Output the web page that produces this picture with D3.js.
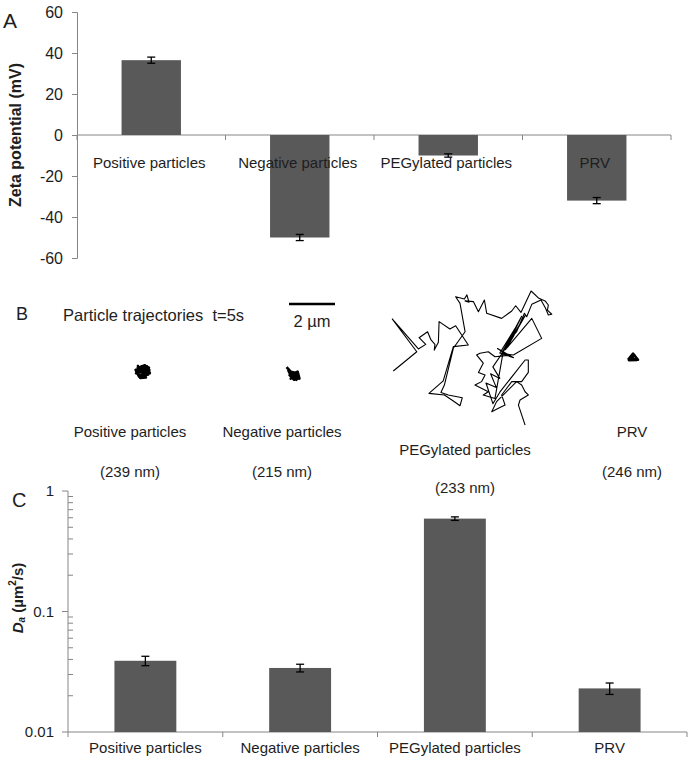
<!DOCTYPE html>
<html>
<head>
<meta charset="utf-8">
<script src="https://cdn.jsdelivr.net/npm/d3@7/dist/d3.min.js"></script>
<style>
  html, body { margin: 0; padding: 0; background: #fff; }
  svg { display: block; font-family: "Liberation Sans", Arial, sans-serif; }
</style>
</head>
<body>
<svg id="chart" width="692" height="761"></svg>
<script>
// ---------- DATA ----------
const categories = ["Positive particles", "Negative particles", "PEGylated particles", "PRV"];
const zetaValues = [36.5, -50, -10, -32];
const zetaErrors = [1.5, 1.5, 0.8, 1.5];
const zetaTicks = [-60, -40, -20, 0, 20, 40, 60];
const daValues = [0.039, 0.034, 0.59, 0.023];
const daErrors = [0.0035, 0.0025, 0.02, 0.0025];
const daTicks = [1, 0.1, 0.01];
const daTickLabels = ["1", "0.1", "0.01"];
const particleSizes = ["(239 nm)", "(215 nm)", "(233 nm)", "(246 nm)"];
const scaleBarMicrons = 2;

// trajectories in µm, relative to each particle's mean position
const trajPositive = [[-0.25,-0.1],[0.1,-0.25],[0.3,-0.05],[0.05,0.2],[-0.28,0.1],[-0.05,-0.2],[0.25,0.15],[-0.15,0.25],[-0.3,-0.05],[0.2,-0.2],[0.32,0.1],[0,0.05],[-0.2,-0.22],[0.15,0.28],[-0.1,0.3],[-0.25,0.05],[0.1,0.0],[0.28,-0.15],[-0.1,-0.05],[0.15,0.12]];
const trajNegative = [[-0.28,-0.3],[-0.1,-0.1],[0.1,-0.05],[0.25,0.15],[0.05,0.25],[-0.15,0.05],[0.2,-0.1],[0.28,0.2],[-0.05,0.15],[-0.2,-0.15],[0.15,0.25],[0.0,-0.05],[0.22,0.05],[-0.1,0.2],[0.1,0.1]];
const trajPEG = [[-3.03,0.48],[-2.01,-0.36],[-3.07,-1.78],[-1.94,-0.48],[-1.62,-0.68],[-1.91,-0.97],[-1.54,-1.23],[-1.39,-0.87],[-1.22,-0.68],[-1.25,-0.43],[-1.07,-0.77],[-1.04,-1.67],[-0.57,-1.35],[-0.32,-1.49],[0.23,-0.65],[-0.42,-0.58],[-0.86,0.91],[-1.48,1.45],[-0.81,1.52],[-0.42,1.78],[-0.13,1.99],[-0.03,1.64],[-0.64,1.52],[-0.96,1.41],[-0.81,1.09],[-0.42,-0.51],[0.09,-1.23],[-0.13,-2.46],[-0.32,-2.75],[0.06,-2.65],[0.17,-2.83],[0.26,-2.51],[0.09,-2.57],[0.45,-2.54],[0.67,-2.10],[0.93,-2.61],[1.03,-2.03],[1.68,-1.81],[2.12,-2.13],[2.29,-2.36],[2.52,-2.07],[2.96,-3.00],[3.30,-2.68],[3.57,-2.57],[3.71,-2.39],[3.67,-2.17],[3.86,-1.99],[3.71,-1.96],[3.59,-2.25],[3.39,-2.61],[2.99,-2.42],[2.77,-1.88],[2.67,-2.03],[2.33,-1.23],[2.09,-0.94],[1.75,-0.36],[2.70,-1.93],[1.90,-0.51],[2.99,-1.81],[3.42,-0.94],[2.19,-0.22],[1.68,-0.29],[2.55,-1.90],[1.85,-0.45],[2.40,-1.60],[1.60,-0.30],[2.20,-0.10],[1.50,-0.50],[1.95,-0.20],[1.39,-0.14],[1.10,-0.36],[0.74,-0.29],[0.59,-0.22],[0.88,0.14],[0.67,0.54],[0.96,0.65],[0.81,0.94],[0.52,1.09],[1.10,1.38],[0.88,1.52],[1.39,1.67],[1.75,-0.36],[1.30,0.30],[1.60,0.80],[1.20,0.60],[1.45,1.20],[1.00,1.00],[1.30,1.90],[1.60,1.40],[2.70,0.00],[2.84,0.00],[2.84,0.54],[2.55,0.94],[2.12,0.94],[1.68,1.52],[1.83,1.96],[1.54,2.10],[1.25,2.25],[1.46,1.81],[2.33,0.94],[2.55,1.09],[2.70,1.38],[2.84,1.52],[2.48,1.74],[2.41,1.96],[2.70,2.83]];
const trajPRV = [[-0.22,0.12],[0,-0.15],[0.22,0.12],[-0.15,0.1],[0.05,-0.1],[0.15,0.05],[-0.05,0.12],[0,0],[-0.18,0.14],[0.18,0.13]];

// ---------- LAYOUT ----------
const svg = d3.select("#chart");
const FONT = '"Liberation Sans", Arial, sans-serif';
const AXIS = "#868686", BAR = "#595959", TXT = "#1e1e1e";

// ---------- PANEL A ----------
const xA = d3.scaleBand().domain(categories).range([77, 671]).paddingInner(0.6).paddingOuter(0.3);
const yA = d3.scaleLinear().domain([-60, 60]).range([258, 12]);
const gA = svg.append("g");

const axA = gA.append("g").attr("transform", "translate(77,0)")
  .call(d3.axisLeft(yA).tickValues(zetaTicks).tickSize(5).tickPadding(9).tickFormat(d => String(d)));
axA.select(".domain").attr("stroke", AXIS);
axA.selectAll(".tick line").attr("stroke", AXIS);
axA.selectAll(".tick text").attr("font-size", 16).attr("font-family", FONT).attr("fill", TXT);

const stepA = xA.step();
const bndA = d3.range(categories.length + 1).map(i => xA.range()[0] + i * stepA);
gA.append("line").attr("x1", 77).attr("x2", 671).attr("y1", yA(0)).attr("y2", yA(0)).attr("stroke", AXIS);
gA.selectAll("line.bt").data(bndA).join("line").attr("class", "bt")
  .attr("x1", d => d).attr("x2", d => d).attr("y1", yA(0)).attr("y2", yA(0) + 5).attr("stroke", AXIS);

gA.selectAll("rect").data(zetaValues).join("rect")
  .attr("x", (d, i) => xA(categories[i])).attr("width", xA.bandwidth())
  .attr("y", d => yA(Math.max(0, d))).attr("height", d => Math.abs(yA(d) - yA(0)))
  .attr("fill", BAR);

function errBars(g, xs, ys, vals, errs, cap) {
  vals.forEach((v, i) => {
    const cx = xs(categories[i]) + xs.bandwidth() / 2;
    const y1 = ys(v + errs[i]), y2 = ys(v - errs[i]);
    g.append("line").attr("x1", cx).attr("x2", cx).attr("y1", y1).attr("y2", y2).attr("stroke", "#000").attr("stroke-width", 1.3);
    [y1, y2].forEach(yy => g.append("line").attr("x1", cx - cap).attr("x2", cx + cap).attr("y1", yy).attr("y2", yy).attr("stroke", "#000").attr("stroke-width", 1.3));
  });
}
errBars(gA, xA, yA, zetaValues, zetaErrors, 4);

gA.selectAll("text.cl").data(categories).join("text").attr("class", "cl")
  .attr("x", d => xA(d) + xA.bandwidth() / 2 - 2).attr("y", 168)
  .attr("text-anchor", "middle").attr("font-size", 15).attr("fill", TXT).text(d => d);

gA.append("text").attr("transform", "translate(15,135) rotate(-90)")
  .attr("text-anchor", "middle").attr("dominant-baseline", "central")
  .attr("font-size", 16).attr("font-weight", "bold").attr("fill", TXT).text("Zeta potential (mV)");
gA.append("text").attr("x", 3).attr("y", 28).attr("font-size", 21).attr("fill", TXT).text("A");

// ---------- PANEL B ----------
const um = d3.scaleLinear().domain([0, 1]).range([0, 23]);
const gB = svg.append("g");
gB.append("text").attr("x", 16).attr("y", 320).attr("font-size", 18).attr("fill", TXT).text("B");
gB.append("text").attr("x", 63).attr("y", 321).attr("font-size", 16.5).attr("fill", TXT)
  .attr("xml:space", "preserve").style("white-space", "pre").text("Particle trajectories  t=5s");
gB.append("line").attr("x1", 289).attr("x2", 289 + um(scaleBarMicrons)).attr("y1", 304).attr("y2", 304)
  .attr("stroke", "#000").attr("stroke-width", 2.5);
gB.append("text").attr("x", 289 + um(scaleBarMicrons) / 2).attr("y", 327).attr("text-anchor", "middle")
  .attr("font-size", 16.5).attr("fill", TXT).text(scaleBarMicrons + " \u00b5m");

const trajs = [
  { pts: trajPositive, cx: 142.5, cy: 371, w: 2.6 },
  { pts: trajNegative, cx: 293, cy: 374, w: 2.6 },
  { pts: trajPEG, cx: 463, cy: 360, w: 1.1 },
  { pts: trajPRV, cx: 633, cy: 357, w: 2.4 }
];
const line = d3.line();
trajs.forEach(t => {
  gB.append("path")
    .attr("d", line(t.pts.map(p => [t.cx + um(p[0]), t.cy + um(p[1])])))
    .attr("fill", "none").attr("stroke", "#000").attr("stroke-width", t.w)
    .attr("stroke-linejoin", "round");
});

const labB = [
  { x: 130, y1: 437, y2: 477 },
  { x: 282, y1: 437, y2: 477 },
  { x: 465, y1: 455, y2: 493 },
  { x: 632, y1: 437, y2: 477 }
];
categories.forEach((c, i) => {
  gB.append("text").attr("x", labB[i].x).attr("y", labB[i].y1).attr("text-anchor", "middle")
    .attr("font-size", 15).attr("fill", TXT).text(c);
  gB.append("text").attr("x", labB[i].x).attr("y", labB[i].y2).attr("text-anchor", "middle")
    .attr("font-size", 15).attr("fill", TXT).text(particleSizes[i]);
});

// ---------- PANEL C ----------
const xC = d3.scaleBand().domain(categories).range([68, 687]).paddingInner(0.6).paddingOuter(0.3);
const yC = d3.scaleLog().domain([0.01, 1]).range([732, 491]);
const gC = svg.append("g");

gC.append("line").attr("x1", 68).attr("x2", 68).attr("y1", yC(1)).attr("y2", yC(0.01)).attr("stroke", AXIS);
gC.selectAll("line.maj").data(daTicks).join("line").attr("class", "maj")
  .attr("x1", 62).attr("x2", 68).attr("y1", d => yC(d)).attr("y2", d => yC(d)).attr("stroke", AXIS);
const minors = [];
[0.01, 0.1].forEach(b => d3.range(2, 10).forEach(k => minors.push(b * k)));
gC.selectAll("line.min").data(minors).join("line").attr("class", "min")
  .attr("x1", 68).attr("x2", 73).attr("y1", d => yC(d)).attr("y2", d => yC(d)).attr("stroke", AXIS);
gC.selectAll("text.tl").data(daTicks).join("text").attr("class", "tl")
  .attr("x", 54).attr("y", d => yC(d)).attr("dy", "0.35em").attr("text-anchor", "end")
  .attr("font-size", 15).attr("fill", TXT).text((d, i) => daTickLabels[i]);

const stepC = xC.step();
const bndC = d3.range(categories.length + 1).map(i => xC.range()[0] + i * stepC);
gC.append("line").attr("x1", 68).attr("x2", 687).attr("y1", yC(0.01)).attr("y2", yC(0.01)).attr("stroke", AXIS);
gC.selectAll("line.bt").data(bndC).join("line").attr("class", "bt")
  .attr("x1", d => d).attr("x2", d => d).attr("y1", yC(0.01)).attr("y2", yC(0.01) + 5).attr("stroke", AXIS);

gC.selectAll("rect").data(daValues).join("rect")
  .attr("x", (d, i) => xC(categories[i])).attr("width", xC.bandwidth())
  .attr("y", d => yC(d)).attr("height", d => yC(0.01) - yC(d))
  .attr("fill", BAR);
errBars(gC, xC, yC, daValues, daErrors, 4);

gC.selectAll("text.cl").data(categories).join("text").attr("class", "cl")
  .attr("x", d => xC(d) + xC.bandwidth() / 2).attr("y", 753)
  .attr("text-anchor", "middle").attr("font-size", 15).attr("fill", TXT).text(d => d);

const yt = gC.append("text").attr("transform", "translate(17,598) rotate(-90)")
  .attr("text-anchor", "middle").attr("dominant-baseline", "central")
  .attr("font-size", 15).attr("font-weight", "bold").attr("fill", TXT);
yt.append("tspan").attr("font-style", "italic").text("D");
yt.append("tspan").attr("font-style", "italic").attr("font-size", 10).attr("dy", 4).text("a");
yt.append("tspan").attr("dy", -4).text(" (\u00b5m");
yt.append("tspan").attr("font-size", 10).attr("dy", -5).text("2");
yt.append("tspan").attr("dy", 5).text("/s)");
gC.append("text").attr("x", 12).attr("y", 507).attr("font-size", 20).attr("fill", TXT).text("C");
</script>
</body>
</html>
